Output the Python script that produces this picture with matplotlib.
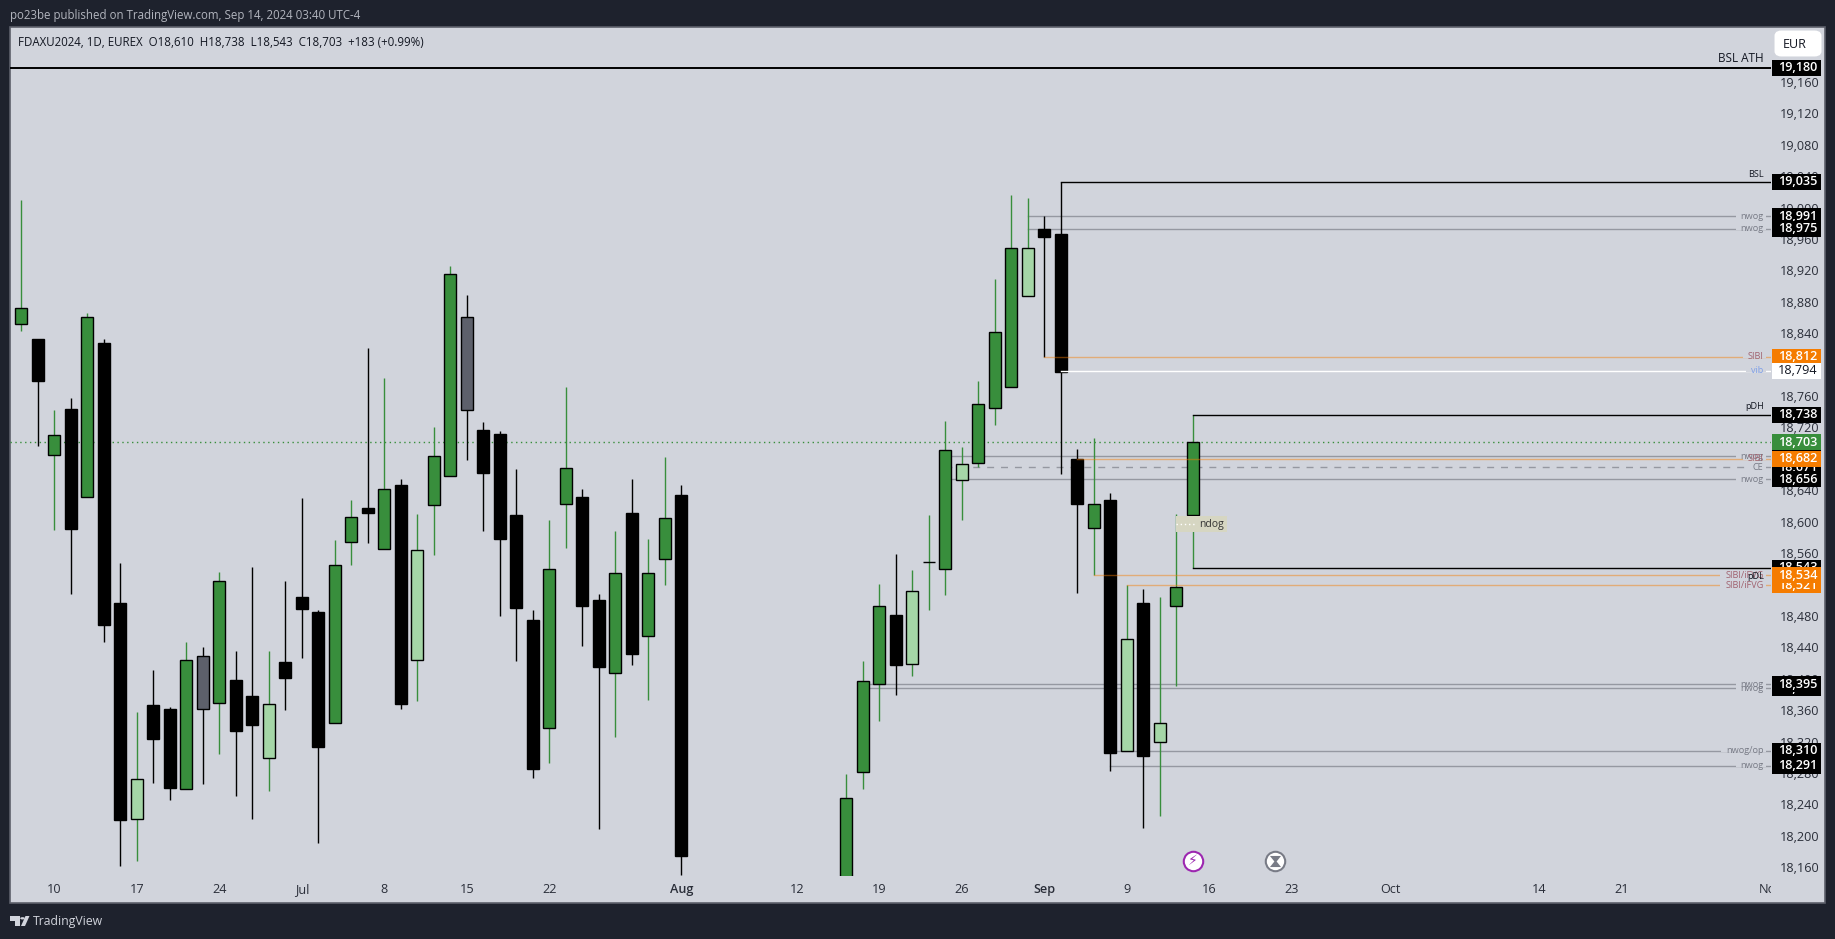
import numpy as np
import matplotlib
matplotlib.use("Agg")
from matplotlib import pyplot as plt
from matplotlib.patches import Rectangle, FancyBboxPatch, Circle, Polygon
from matplotlib.transforms import Bbox, ScaledTranslation, blended_transform_factory

plt.rcParams["font.family"] = ["Open Sans", "DejaVu Sans"]

W, H = 1835, 939
BG = "#1E222D"
PANEL = "#D1D4DC"
GREEN = "#388E3C"
LIGHT = "#A5D6A7"
SLATE = "#5D606B"
ORANGE = "#F57C00"

# candle data (41-49 are below the visible range)
positions = list(range(0, 41)) + list(range(50, 72))
highs = [19011, 18835, 18744, 18760, 18867, 18834, 18549, 18359, 18413, 18366,
         18449, 18442, 18538, 18437, 18544, 18437, 18526, 18632, 18490, 18578,
         18629, 18823, 18785, 18656, 18612, 18723, 18928, 18890, 18729, 18717,
         18669, 18490, 18604, 18774, 18644, 18510, 18590, 18656, 18580, 18684,
         18649,
         18280, 18424, 18522, 18561, 18540, 18610, 18730, 18697, 18781, 18911,
         19018, 19014, 18991, 19035, 18694, 18708, 18638, 18521, 18516, 18506,
         18612, 18738]
body_tops = [18874, 18835, 18712, 18745, 18863, 18830, 18498, 18274, 18369, 18363,
             18426, 18431, 18527, 18400, 18380, 18370, 18423, 18506, 18487, 18547,
             18608, 18619, 18644, 18649, 18566, 18685, 18917, 18862, 18719, 18713,
             18611, 18477, 18542, 18670, 18633, 18502, 18536, 18613, 18536, 18607,
             18636,
             18250, 18399, 18495, 18483, 18513, 18550, 18693, 18675, 18752, 18843,
             18950, 18950, 18974, 18968, 18682, 18624, 18629, 18453, 18498, 18346,
             18519, 18703]
body_bots = [18853, 18781, 18687, 18592, 18633, 18470, 18222, 18223, 18325, 18263,
             18262, 18363, 18371, 18335, 18343, 18301, 18403, 18491, 18315, 18345,
             18576, 18613, 18567, 18370, 18426, 18623, 18660, 18744, 18664, 18580,
             18492, 18287, 18339, 18624, 18495, 18417, 18409, 18433, 18456, 18555,
             18176,
             18130, 18283, 18395, 18419, 18421, 18550, 18542, 18655, 18677, 18747,
             18774, 18889, 18964, 18792, 18625, 18594, 18307, 18310, 18303, 18321,
             18495, 18610]
lows = [18845, 18698, 18591, 18510, 18633, 18449, 18163, 18170, 18269, 18247,
        18262, 18268, 18306, 18253, 18223, 18259, 18362, 18428, 18193, 18345,
        18547, 18575, 18567, 18363, 18373, 18560, 18660, 18681, 18590, 18482,
        18424, 18276, 18294, 18569, 18443, 18210, 18328, 18419, 18375, 18521,
        18152,
        18100, 18262, 18348, 18381, 18406, 18490, 18509, 18604, 18671, 18725,
        18774, 18889, 18812, 18663, 18511, 18534, 18284, 18310, 18212, 18227,
        18393, 18543]
kinds = list("gkgkgkklkkgsgkklkkkgg" "kgklgg" "skkkkggkkgkgg" "k"
             "gggklggl" "gggl" "kkkgklkl" "gg")

price_ticks = [18160 + 40 * i for i in range(26)]
price_labels = [f"{p:,}" for p in price_ticks]

time_pos = [2, 7, 12, 17, 22, 27, 32, 40, 47, 52, 57, 62, 67, 72, 77, 83, 92, 97, 106]
time_labels = ["10", "17", "24", "Jul", "8", "15", "22", "Aug", "12", "19", "26",
               "Sep", "9", "16", "23", "Oct", "14", "21", "Nov"]

# level lines: price, start candle, label
black_levels = [(19035, 63, "BSL", "above"), (18738, 71, "pDH", "above"),
                (18543, 71, "pDL", "below")]
nwog_levels = [(18991, 61, "nwog"), (18975, 61, "nwog"), (18685, 56, "nwog"),
               (18656, 56, "nwog"), (18395, 51, "nwog"), (18390, 51, "nwog"),
               (18310, 66, "nwog/op"), (18291, 66, "nwog")]
sibi_levels = [(18812, 62, "SIBI"), (18682, 64, "SIBI"),
               (18534, 65, "SIBI/iFVG"), (18521, 67, "SIBI/iFVG")]

# price tags, drawn in this order
tag_prices = [19180, 19035, 18991, 18975, 18812, 18794, 18738, 18685, 18671, 18656,
              18543, 18521, 18534, 18390, 18395, 18310, 18291, 18682, 18703]
tag_shown = [f"{p:,}" for p in tag_prices]
tag_colors = ["k", "k", "k", "k", ORANGE, "w", "k", "k", "k", "k",
              "k", ORANGE, ORANGE, "k", "k", "k", "k", ORANGE, GREEN]

fig = plt.figure(figsize=(W / 100, H / 100), dpi=100, facecolor=BG)
fig.add_artist(Rectangle((9.5 / W, 1 - 903 / H), 1815 / W, 876 / H, transform=fig.transFigure,
                         fc=PANEL, ec="#5D606B", lw=1.2, zorder=-1))

# chart axes: 16.5 px per candle, 0.7853 px per point
left, right, top, bottom = 10, 1771, 27, 876
ax = fig.add_axes([left / W, 1 - bottom / H, (right - left) / W, (bottom - top) / H])
ax.set_xlim((left - 21.3) / 16.5, (right - 21.3) / 16.5)
ax.set_ylim(19180 - (bottom - 67.7) / 0.7853, 19180 + (67.7 - top) / 0.7853)
ax.patch.set_alpha(0)
for s in ax.spines.values():
    s.set_visible(False)

ax.yaxis.tick_right()
ax.set_yticks(price_ticks, price_labels)
ax.tick_params(axis="y", length=0, pad=6.5, labelsize=9.1, labelcolor="#2A2E39")
ax.set_xticks(time_pos, time_labels)
ax.tick_params(axis="x", length=0, pad=5, labelsize=9.1, labelcolor="#2A2E39")
lift = ScaledTranslation(0, 1.5 / 100, fig.dpi_scale_trans)
for t in ax.get_yticklabels():
    t.set_transform(t.get_transform() + lift)
for t in ax.get_xticklabels():
    if t.get_text() in ("Aug", "Sep"):
        t.set_fontweight("semibold")
last = ax.get_xticklabels()[-1]
last.set_clip_box(Bbox([[0, 0], [1770.5, H]]))
last.set_clip_on(True)

fill = {"g": GREEN, "k": "black", "l": LIGHT, "s": SLATE}
wick = {"g": GREEN, "k": "black", "l": GREEN, "s": "black"}

# gray levels sit under the candles
for price, start, label in nwog_levels:
    ax.plot([start, 106.1], [price, price], color="#9598A1", lw=1, zorder=1)
ax.plot([56, 106.1], [18671, 18671], color="#9598A1", lw=1, ls=(0, (5, 5)), zorder=1)

for x, hi, tp, bt, lo, k in zip(positions, highs, body_tops, body_bots, lows, kinds):
    ax.vlines(x, lo, hi, color=wick[k], lw=1, zorder=2)
    ax.add_patch(Rectangle((x - 0.37, bt), 0.74, tp - bt, fc=fill[k], ec="black",
                           lw=1, zorder=3))

ax.axhline(18703, color=GREEN, lw=1, ls=(0, (1, 2.5)), zorder=1.5)
ax.plot([-1, 106.1], [19180, 19180], color="black", lw=1.4, zorder=4)
for price, start, label, side in black_levels:
    ax.plot([start, 106.1], [price, price], color="black", lw=1, zorder=4)
for price, start, label in sibi_levels:
    ax.plot([start, 106.1], [price, price], color=ORANGE, alpha=0.45, lw=1, zorder=4)
ax.plot([63, 106.1], [18794, 18794], color="white", lw=1, zorder=4)

# ndog gap box
ax.add_patch(Rectangle((70, 18589), 3.1, 20, fc="#D6D6C2", ec="none", zorder=3.5))
ax.plot([70, 71.2], [18599, 18599], color="white", lw=1, ls=(0, (1, 2)), zorder=3.6)
ax.text(72.9, 18598, "ndog", ha="right", va="center", fontsize=7.5, color="#333333", zorder=3.7)


def level_label(price, text, color, dy=0, gap=True):
    t = ax.text(105.6, price + dy, text, ha="right", va="center", fontsize=6.6, color=color, zorder=4.5)
    if gap:
        bb = t.get_window_extent(fig.canvas.get_renderer())
        x0 = ax.transData.inverted().transform((bb.x0 - 5, 0))[0]
        ax.add_patch(Rectangle((x0, price - 2), 105.72 - x0, 4, fc=PANEL, ec="none", zorder=4.2))
    return t


for price, start, label in nwog_levels:
    level_label(price, label, "#787B86")
for price, start, label in sibi_levels:
    level_label(price, label, "#A0616E")
level_label(18794, "vib", "#7E9FE8")
level_label(18671, "CE", "#787B86")
level_label(19035, "BSL", "#131722", dy=9.5, gap=False)
level_label(18738, "pDH", "#131722", dy=10, gap=False)
level_label(18543, "pDL", "#131722", dy=-11, gap=False)
ax.text(105.6, 19180 + 12, "BSL ATH", ha="right", va="center", fontsize=8.5, color="#131722", zorder=5)

# price tags on the scale
tag_h = 20.4
tag_x = blended_transform_factory(fig.transFigure, ax.transData)
for i, (price, shown, col) in enumerate(zip(tag_prices, tag_shown, tag_colors)):
    z = 6 + i * 0.01
    ax.add_patch(Rectangle((1772 / W, price - tag_h / 2), 49 / W, tag_h, transform=tag_x,
                           fc=col, ec="none", clip_on=False, zorder=z))
    ax.text(1797.5 / W, price, shown, transform=tag_x, ha="center", va="center", fontsize=9.1,
            color="#131722" if col == "w" else "white", clip_on=False, zorder=z + 0.005,
            fontweight="semibold" if col != "w" else "normal")

# event icons at the chart's bottom edge
ax.plot([71, 76], [18170, 18170], "o", ms=15, mfc="white", mec="none", zorder=5, clip_on=False)
ax.plot([71], [18170], "o", ms=14, mfc="white", mec="#9C27B0", mew=1.5, zorder=5.1, clip_on=False)
ax.plot([76], [18170], "o", ms=14, mfc="white", mec="#787B86", mew=1.5, zorder=5.1, clip_on=False)
ax.text(71, 18170, "\u26a1", ha="center", va="center", fontsize=10, color="#9C27B0",
        family="DejaVu Sans", zorder=5.5)
hourglass = [(-1, 1), (1, 1), (0.2, 0), (1, -1), (-1, -1), (-0.2, 0), (-1, 1)]
ax.plot([76], [18170], marker=hourglass, ms=8, mfc="#787B86", mec="none", zorder=5.5, clip_on=False)

# currency button
fig.add_artist(FancyBboxPatch((1778 / W, 1 - 53 / H), 40 / W, 19 / H, transform=fig.transFigure,
                              boxstyle="round,pad=0,rounding_size=0.002", fc="white", ec="white",
                              lw=5, zorder=3))
fig.text(1795 / W, 1 - 44.5 / H, "EUR", ha="center", va="center", fontsize=9, color="#131722", zorder=4)

fig.text(10 / W, 1 - 15 / H, "po23be published on TradingView.com, Sep 14, 2024 03:40 UTC-4",
         ha="left", va="center", fontsize=8.3, color="#B2B5BE")
fig.text(18 / W, 1 - 42 / H, "FDAXU2024, 1D, EUREX  O18,610  H18,738  L18,543  C18,703  +183 (+0.99%)",
         ha="left", va="center", fontsize=8.3, color="#131722")

# footer logo and name
fig.text(33 / W, 1 - 921 / H, "TradingView", ha="left", va="center", fontsize=8.8,
         color="#D1D4DC", fontweight="medium")
logo_bar = [(10, 916), (20, 916), (20, 926), (15, 926), (15, 921), (10, 921)]
logo_slash = [(25.5, 916), (29.5, 916), (25, 926), (21, 926)]
for pts in (logo_bar, logo_slash):
    fig.add_artist(Polygon([(x / W, 1 - y / H) for x, y in pts], transform=fig.transFigure,
                           fc="#D1D4DC", ec="none"))
fig.add_artist(Circle((22.5 / W, 1 - 918.3 / H), 2.3 / W, transform=fig.transFigure, fc="#D1D4DC", ec="none"))

fig.savefig("out.png", dpi=100, facecolor=fig.get_facecolor())
